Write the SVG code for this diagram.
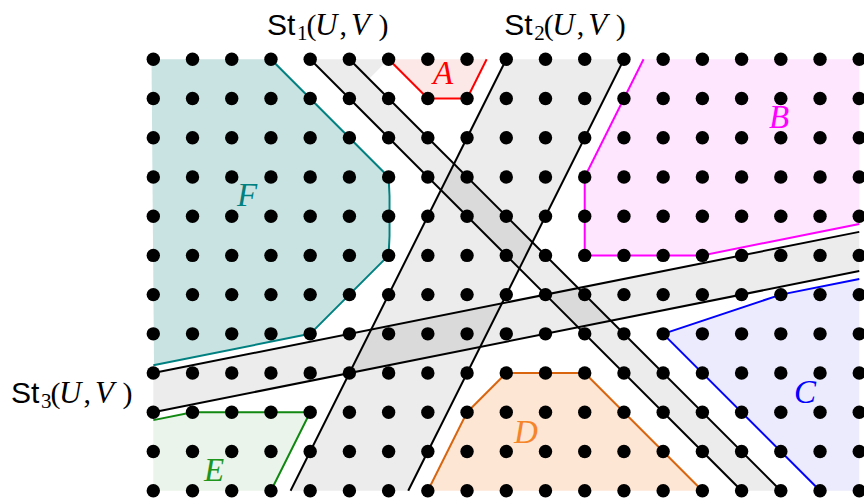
<svg xmlns="http://www.w3.org/2000/svg" width="864" height="500" viewBox="0 0 864 500">
<style>
.strip{fill:#000;fill-opacity:0.075;stroke:none}
.ln{stroke:#000;stroke-width:2;fill:none}
.edge{fill:none;stroke-width:2;stroke-linejoin:round}
.lab{font-family:"Liberation Serif",serif;font-style:italic;font-size:33px;text-anchor:middle}
.st{font-size:30px;fill:#000}
.sans{font-family:"Liberation Sans",sans-serif}
.ser{font-family:"Liberation Serif",serif}
.it{font-style:italic;font-size:31px}
.sub{font-size:21px}
.dot{fill:#000}
</style>
<defs>
<g id="row">
<circle class="dot" cx="153.3" cy="0" r="6.7"/><circle class="dot" cx="192.52" cy="0" r="6.7"/><circle class="dot" cx="231.74" cy="0" r="6.7"/><circle class="dot" cx="270.96" cy="0" r="6.7"/><circle class="dot" cx="310.18" cy="0" r="6.7"/><circle class="dot" cx="349.4" cy="0" r="6.7"/><circle class="dot" cx="388.62" cy="0" r="6.7"/><circle class="dot" cx="427.84" cy="0" r="6.7"/><circle class="dot" cx="467.06" cy="0" r="6.7"/><circle class="dot" cx="506.28" cy="0" r="6.7"/><circle class="dot" cx="545.5" cy="0" r="6.7"/><circle class="dot" cx="584.72" cy="0" r="6.7"/><circle class="dot" cx="623.94" cy="0" r="6.7"/><circle class="dot" cx="663.16" cy="0" r="6.7"/><circle class="dot" cx="702.38" cy="0" r="6.7"/><circle class="dot" cx="741.6" cy="0" r="6.7"/><circle class="dot" cx="780.82" cy="0" r="6.7"/><circle class="dot" cx="820.04" cy="0" r="6.7"/><circle class="dot" cx="859.26" cy="0" r="6.7"/>
</g>
</defs>
<rect width="864" height="500" fill="#fff"/>

<g id="regionF">
<polygon points="151.5,59.3 270.96,59.3 388.62,176.96 388.62,255.4 310.18,333.84 154,365.22" fill="#c9e3e2"/>
<polyline class="edge" stroke="#008080" points="270.96,59.3 388.62,176.96 389.5,196 389.5,236 388.62,255.4 310.18,333.84 153.3,365.22"/>
<text class="lab" x="247" y="206" fill="#008080">F</text>
</g>

<g id="regionA">
<polygon points="388.62,59.3 427.84,98.52 467.06,98.52 486.67,59.3" fill="#fde8e8"/>
<polyline class="edge" stroke="#ff0000" points="388.62,59.3 427.84,98.52 467.06,98.52 486.67,59.3"/>
<text class="lab" x="443" y="84" fill="#ff0000">A</text>
</g>

<g id="regionB">
<polygon points="643.55,59.3 584.72,176.96 584.72,255.4 702.38,255.4 859.26,224.02 859.26,59.3" fill="#fee6fe"/>
<polyline class="edge" stroke="#ff00ff" points="643.55,59.3 584.72,176.96 584.72,255.4 702.38,255.4 859.26,224.02"/>
<text class="lab" x="779" y="127.5" fill="#ff00ff">B</text>
</g>

<g id="regionC">
<polygon points="859.26,278.93 780.82,294.62 663.16,333.84 820.04,490.72 859.26,490.72" fill="#ebebfd"/>
<polyline class="edge" stroke="#0000ff" points="859.26,278.93 780.82,294.62 663.16,333.84 820.04,490.72"/>
<text class="lab" x="805" y="402.5" fill="#0000ff">C</text>
</g>

<g id="regionD">
<polygon points="427.84,490.72 467.06,412.28 506.28,373.06 584.72,373.06 702.38,490.72" fill="#fde6d4"/>
<polyline class="edge" stroke="#d9650f" points="427.84,490.72 467.06,412.28 506.28,373.06 584.72,373.06 702.38,490.72"/>
<text class="lab" x="526" y="442.5" fill="#f5852a">D</text>
</g>

<g id="regionE">
<polygon points="153.3,420.12 192.52,412.28 310.18,412.28 270.96,490.72 153.3,490.72" fill="#eaf4ea"/>
<polyline class="edge" stroke="#118811" points="153.3,420.12 192.52,412.28 310.18,412.28 270.96,490.72"/>
<text class="lab" x="214" y="480.5" fill="#1e961e">E</text>
</g>

<g id="strips">
<polygon class="strip" points="310.18,59.3 388.62,59.3 369,79 780.82,490.72 741.6,490.72"/>
<polygon class="strip" points="506.28,59.3 623.94,59.3 408.23,490.72 290.57,490.72"/>
<polygon class="strip" points="153.3,373.06 859.26,231.87 859.26,271.09 153.3,412.28"/>
</g>

<g id="connectors">
<line class="ln" x1="310.18" y1="59.3" x2="741.6" y2="490.72"/>
<line class="ln" x1="349.4" y1="59.3" x2="780.82" y2="490.72"/>
<line class="ln" x1="506.28" y1="59.3" x2="290.57" y2="490.72"/>
<line class="ln" x1="623.94" y1="59.3" x2="408.23" y2="490.72"/>
<line class="ln" x1="153.3" y1="373.06" x2="859.26" y2="231.87"/>
<line class="ln" x1="153.3" y1="412.28" x2="859.26" y2="271.09"/>
</g>

<g id="grid">
<use href="#row" y="59.3"/><use href="#row" y="98.52"/><use href="#row" y="137.74"/><use href="#row" y="176.96"/><use href="#row" y="216.18"/><use href="#row" y="255.4"/><use href="#row" y="294.62"/><use href="#row" y="333.84"/><use href="#row" y="373.06"/><use href="#row" y="412.28"/><use href="#row" y="451.5"/><use href="#row" y="490.72"/>
</g>

<g id="labels">
<text class="st" id="St1"><tspan class="sans" x="267" y="35">St</tspan><tspan class="ser sub" x="297" y="40">1</tspan><tspan class="ser" x="306.5" y="35">(</tspan><tspan class="ser it" x="315" y="35">U</tspan><tspan class="ser" x="339.5" y="35">,</tspan><tspan class="ser it" x="351" y="35">V</tspan><tspan class="ser" x="378.5" y="35">)</tspan></text>
<text class="st" id="St2"><tspan class="sans" x="504.3" y="35">St</tspan><tspan class="ser sub" x="534.3" y="40">2</tspan><tspan class="ser" x="543.8" y="35">(</tspan><tspan class="ser it" x="552.3" y="35">U</tspan><tspan class="ser" x="576.8" y="35">,</tspan><tspan class="ser it" x="588.3" y="35">V</tspan><tspan class="ser" x="615.8" y="35">)</tspan></text>
<text class="st" id="St3"><tspan class="sans" x="11" y="403.3">St</tspan><tspan class="ser sub" x="41" y="408.3">3</tspan><tspan class="ser" x="50.5" y="403.3">(</tspan><tspan class="ser it" x="59" y="403.3">U</tspan><tspan class="ser" x="83.5" y="403.3">,</tspan><tspan class="ser it" x="95" y="403.3">V</tspan><tspan class="ser" x="122.5" y="403.3">)</tspan></text>
</g>
</svg>
